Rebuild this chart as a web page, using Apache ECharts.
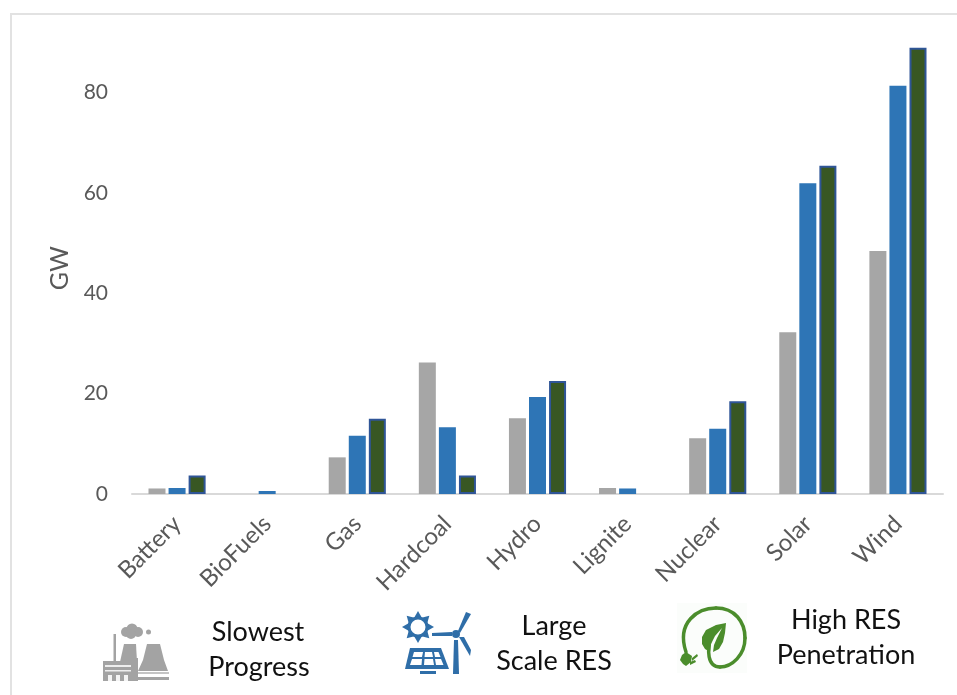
<!DOCTYPE html>
<html>
<head>
<meta charset="utf-8">
<style>html,body{margin:0;padding:0;background:#fff}#chart{width:957px;height:695px}</style>
<script src="https://cdn.jsdelivr.net/npm/echarts@6/dist/echarts.min.js"></script>
</head>
<body>
<div id="chart"></div>
<script>
const categories = ['Battery', 'BioFuels', 'Gas', 'Hardcoal', 'Hydro', 'Lignite', 'Nuclear', 'Solar', 'Wind'];
const slowestProgress = [1.1, null, 7.3, 26.2, 15.1, 1.2, 11.1, 32.2, 48.4];
const largeScaleRes = [1.2, 0.6, 11.6, 13.3, 19.3, 1.1, 13, 61.9, 81.3];
const highResPenetration = [3.7, null, 15, 3.7, 22.5, null, 18.5, 65.4, 88.9];

const GREY = '#a6a6a6', BLUE = '#2e75b6', GREEN = '#385723', EDGE = '#2f5597';
const FONT = 'Lato, "Open Sans", sans-serif';
const ICON_GREY = '#a3a3a3', ICON_BLUE = '#2f6ea8', ICON_GREEN = '#4b8d2c';

const poly = (points, fill) => ({ type: 'polygon', shape: { points }, style: { fill } });
const box = (x, y, width, height, fill) => ({ type: 'rect', shape: { x, y, width, height }, style: { fill } });
const dot = (cx, cy, r, fill) => ({ type: 'circle', shape: { cx, cy, r }, style: { fill } });
const curve = (x1, y1, cpx1, cpy1, cpx2, cpy2, x2, y2, color, lineWidth) => ({
  type: 'bezierCurve',
  shape: { x1, y1, cpx1, cpy1, cpx2, cpy2, x2, y2 },
  style: { fill: null, stroke: color, lineWidth, lineCap: 'round' }
});
const caption = (x, y, text) => ({
  type: 'text', x, y,
  style: { text, fill: '#111', font: '27px ' + FONT, align: 'center', verticalAlign: 'middle' }
});

// Power plant: cooling towers, stack, smoke and turbine hall
const plantIcon = [
  dot(126, 632, 5, ICON_GREY), dot(132, 629, 5.5, ICON_GREY), dot(138, 632, 5, ICON_GREY), dot(131, 634, 5, ICON_GREY),
  dot(148.5, 632, 2.5, ICON_GREY),
  box(113.5, 634, 2.5, 27, ICON_GREY),
  poly([[124, 644], [136, 644], [137, 662], [120, 662]], ICON_GREY),
  poly([[147, 644], [160, 644], [164, 660], [168, 671], [138, 671], [143, 660]], ICON_GREY),
  box(137, 677, 32, 3, ICON_GREY), box(137, 672, 32, 2, '#c4c4c4'),
  box(103, 661, 30, 20, ICON_GREY), box(133, 658, 5, 23, ICON_GREY),
  box(105, 665, 26, 2, '#eee'), box(105, 670, 26, 1.5, '#eee'),
  box(108, 675, 4, 6, '#f4f4f4'), box(116, 675, 4, 6, '#f4f4f4'), box(124, 675, 4, 6, '#f4f4f4')
];

// Sun, solar panel and wind turbine
const sunSpikes = [0, 45, 90, 135, 180, 225, 270, 315].map(deg => {
  const a = deg * Math.PI / 180, c = Math.cos(a), s = Math.sin(a);
  return poly([[418 + 16 * c, 627 + 16 * s], [418 + 9 * c - 4 * s, 627 + 9 * s + 4 * c], [418 + 9 * c + 4 * s, 627 + 9 * s - 4 * c]], ICON_BLUE);
});
const renewablesIcon = [
  ...sunSpikes,
  { type: 'circle', shape: { cx: 418, cy: 627, r: 9 }, style: { fill: '#fff', stroke: ICON_BLUE, lineWidth: 3 } },
  poly([[432, 633], [452, 632], [452, 636], [432, 636]], ICON_BLUE),
  dot(456, 634, 4, ICON_BLUE),
  poly([[458, 631], [466, 612], [471, 614], [460, 633]], ICON_BLUE),
  poly([[459, 637], [464, 637], [471, 650], [470, 656]], ICON_BLUE),
  poly([[454, 640], [458, 640], [459, 674], [453, 674]], ICON_BLUE),
  poly([[410, 648], [441, 648], [449, 669], [405, 669]], ICON_BLUE),
  poly([[414, 652], [423, 652], [422, 657], [412.5, 657]], '#fff'),
  poly([[425, 652], [432, 652], [433, 657], [424.5, 657]], '#fff'),
  poly([[434, 652], [438.5, 652], [440.5, 657], [435, 657]], '#fff'),
  poly([[412, 659], [422, 659], [421.5, 665], [410, 665]], '#fff'),
  poly([[424.5, 659], [433, 659], [434, 665], [424, 665]], '#fff'),
  poly([[435, 659], [441, 659], [443.5, 665], [436, 665]], '#fff'),
  box(420, 671, 16, 3, ICON_BLUE)
];

// Leaf wrapped in a power cord
const cordIcon = [
  box(677, 603, 70, 70, '#fbfdfb'),
  curve(686, 652, 676, 622, 698, 608, 716, 608, ICON_GREEN, 3.5),
  curve(716, 608, 735, 608, 745, 622, 745, 638, ICON_GREEN, 3.5),
  curve(745, 638, 745, 655, 732, 667, 720, 667, ICON_GREEN, 3.5),
  curve(720, 667, 707, 667, 707, 650, 711, 636, ICON_GREEN, 3.5),
  poly([[726, 623], [716, 625], [706, 630], [702, 637], [702, 644], [705, 649], [710, 652],
        [711, 644], [715, 636], [722, 628], [717, 638], [714, 645], [713, 652], [719, 649], [723, 642], [725, 633]], ICON_GREEN),
  poly([[686, 652], [692, 656], [691, 662], [686, 666], [683, 664], [680, 660], [682, 655]], ICON_GREEN),
  poly([[692, 658], [697, 654], [698, 656], [692, 661]], ICON_GREEN),
  poly([[690, 662], [695, 660], [696, 662], [690, 665]], ICON_GREEN)
];

const chart = echarts.init(document.getElementById('chart'), null, { renderer: 'canvas' });
const barSeries = (name, data, color, extra) => Object.assign({
  name, type: 'bar', data, barWidth: 17, barGap: '18%', itemStyle: { color }
}, extra || {});

chart.setOption({
  animation: false,
  backgroundColor: '#fff',
  textStyle: { fontFamily: FONT },
  grid: { left: 132, right: 14, top: 42.2, bottom: 201 },
  xAxis: {
    type: 'category',
    data: categories,
    axisTick: { show: false },
    axisLine: { lineStyle: { color: '#d9d9d9', width: 2 } },
    axisLabel: { rotate: 45, interval: 0, color: '#595959', fontSize: 24, fontFamily: FONT, margin: 26 }
  },
  yAxis: {
    type: 'value',
    min: 0, max: 90, interval: 20,
    name: 'GW',
    nameLocation: 'middle',
    nameRotate: 90,
    nameGap: 60,
    nameTextStyle: { color: '#595959', fontSize: 25, fontFamily: FONT },
    axisLine: { show: false },
    axisTick: { show: false },
    splitLine: { show: false },
    axisLabel: { color: '#595959', fontSize: 21, fontFamily: FONT, margin: 24, showMaxLabel: false }
  },
  series: [
    barSeries('Slowest Progress', slowestProgress, GREY),
    barSeries('Large Scale RES', largeScaleRes, BLUE),
    barSeries('High RES Penetration', highResPenetration, GREEN, {
      itemStyle: { color: GREEN, borderColor: EDGE, borderWidth: 2 }
    })
  ],
  graphic: [
    box(10, 13, 947, 2, '#e2e2e2'),
    box(10, 13, 2, 682, '#e2e2e2'),
    ...plantIcon, ...renewablesIcon, ...cordIcon,
    caption(258, 632, 'Slowest'), caption(259, 667, 'Progress'),
    caption(554, 626, 'Large'), caption(554, 661, 'Scale RES'),
    caption(846, 620, 'High RES'), caption(846, 655, 'Penetration')
  ]
});
</script>
</body>
</html>
